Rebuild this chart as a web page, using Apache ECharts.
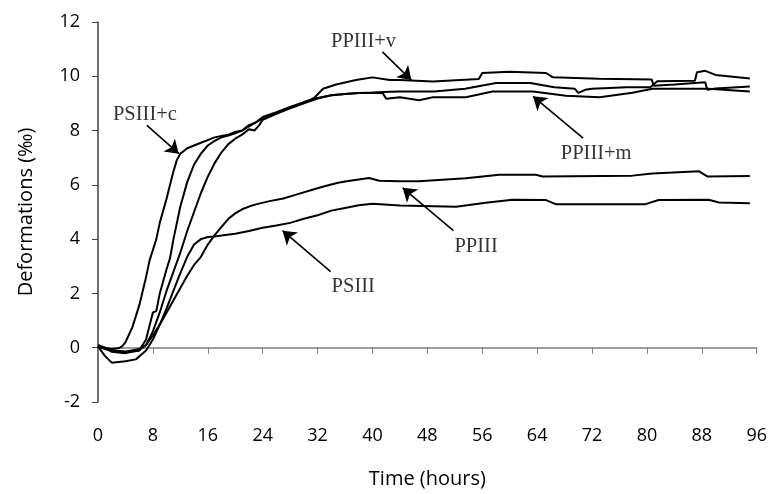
<!DOCTYPE html>
<html><head><meta charset="utf-8">
<script src="https://cdn.jsdelivr.net/npm/echarts@6/dist/echarts.min.js"></script>
<style>html,body{margin:0;padding:0;background:#fff}#c{width:770px;height:494px}</style>
</head><body><div id="c"></div>
<script>
const xTicks = [0, 8, 16, 24, 32, 40, 48, 56, 64, 72, 80, 88, 96];
const yTicks = [-2, 0, 2, 4, 6, 8, 10, 12];

const psIIIc = [[0,0.05],[1,0],[2,-0.05],[3,-0.02],[3.5,0.05],[4,0.2],[5,0.75],[6,1.55],[7,2.6],[7.5,3.2],[8,3.6],[8.5,4.0],[9,4.6],[10,5.5],[10.5,6.0],[11,6.5],[11.5,6.92],[12,7.15],[12.5,7.25],[13,7.35],[14,7.45],[15,7.55],[16,7.65],[17,7.75],[18,7.8],[19,7.85],[20,7.95],[21,8.0],[22,8.2],[23,8.3],[24,8.5],[26,8.68],[28,8.87],[30,9.05],[32,9.2],[34,9.3],[36,9.35],[38,9.38],[40,9.4],[41.5,9.42],[44,9.44],[49,9.44],[53.5,9.54],[58,9.75],[63,9.75],[66.5,9.6],[69.5,9.54],[70,9.39],[71,9.5],[72,9.54],[77,9.6],[80.5,9.6],[81.5,9.82],[87,9.84],[87.3,10.15],[88.5,10.2],[90,10.05],[95,9.92]];
const ppIIIv = [[0,0.05],[1,-0.05],[2,-0.1],[4,-0.15],[6,-0.1],[7,0.3],[7.5,0.8],[8,1.3],[8.5,1.35],[9,2.0],[10,2.9],[10.5,3.3],[11,4.0],[12,5.2],[13,6.1],[14,6.75],[15,7.15],[16,7.45],[17,7.62],[18,7.75],[19,7.82],[20,7.9],[21,8.0],[22,8.15],[24,8.45],[26,8.65],[28,8.85],[30,9.02],[31.5,9.2],[32.8,9.54],[34.7,9.7],[37.6,9.86],[40,9.96],[42.5,9.86],[44,9.86],[48.8,9.81],[55.5,9.9],[56,10.12],[60,10.17],[65.3,10.12],[66.3,9.96],[73,9.91],[80.7,9.88],[81,9.65],[84,9.7],[88.5,9.78],[88.8,9.5],[90,9.55],[95,9.62]];
const ppIIIm = [[0,0.1],[1,0.0],[2,-0.15],[4,-0.2],[6,-0.1],[7,0.1],[8,0.6],[9,1.3],[10,2.1],[11,2.8],[12,3.5],[13,4.3],[14,5.0],[15,5.7],[16,6.3],[17,6.8],[18,7.2],[19,7.5],[20,7.7],[21,7.85],[22,8.05],[22.8,8.0],[23.5,8.2],[24,8.4],[26,8.62],[28,8.82],[30,9.0],[32,9.18],[34,9.3],[36,9.35],[38,9.38],[41.5,9.38],[42,9.17],[44,9.23],[46.8,9.12],[48.8,9.23],[53.6,9.23],[57.5,9.44],[63.4,9.44],[68.2,9.28],[73.1,9.23],[77.9,9.39],[80.8,9.54],[89,9.54],[95,9.44]];
const ppIII = [[0,0.05],[2,-0.1],[4,-0.15],[6,-0.05],[7,0.1],[8,0.45],[9,0.85],[10,1.3],[11,1.75],[12,2.2],[13,2.65],[14,3.05],[15,3.35],[16,3.8],[17,4.15],[18,4.45],[19,4.75],[20,4.95],[21,5.1],[22,5.2],[23,5.28],[25,5.4],[27,5.5],[29,5.65],[31,5.8],[33,5.95],[35,6.08],[36,6.12],[38,6.2],[39.5,6.25],[41,6.15],[44,6.13],[46.8,6.13],[53.6,6.24],[58.5,6.37],[63.8,6.37],[64.8,6.31],[77.9,6.34],[80.8,6.42],[87.6,6.5],[88.8,6.31],[95,6.33]];
const psIII = [[0,0.05],[1,-0.3],[2,-0.55],[4,-0.5],[5.5,-0.43],[7,-0.1],[8,0.3],[9,0.85],[10,1.45],[11,2.1],[12,2.75],[13,3.35],[14,3.8],[15,4.0],[16,4.08],[17,4.1],[18,4.13],[20,4.2],[22,4.3],[24,4.42],[26,4.5],[28,4.6],[30,4.75],[32,4.88],[34,5.05],[36,5.15],[38,5.25],[40,5.3],[44,5.24],[52.2,5.19],[56.5,5.34],[60.4,5.45],[65.3,5.44],[66.7,5.29],[79.8,5.29],[81.7,5.44],[89,5.45],[90.5,5.35],[95,5.32]];

// annotation labels: [x, y, text]
const annLabels = [[6.84,8.6,'PSIII+c'],[38.7,11.28,'PPIII+v'],[72.6,7.15,'PPIII+m'],[55.1,3.72,'PPIII'],[37.2,2.24,'PSIII']];
// annotation arrows: [x1, y1, x2, y2] (from label to curve)
const annArrows = [[7.13,8.19,11.78,7.15],[41.45,10.9,45.67,9.86],[70.7,7.72,63.4,9.26],[51.8,4.31,44.4,5.89],[33.9,2.8,26.9,4.31]];

const tickFont = {fontFamily:'Open Sans', fontSize:18, color:'#000'};
const titleFont = {fontFamily:'Open Sans', fontSize:20, color:'#000'};
const lineSeries = (name, data) => ({
  name, type:'line', data, symbol:'none', smooth:false,
  lineStyle:{color:'#000', width:2}, z:3
});

const series = [
  lineSeries('PSIII+c', psIIIc),
  lineSeries('PPIII+v', ppIIIv),
  lineSeries('PPIII+m', ppIIIm),
  lineSeries('PPIII', ppIII),
  lineSeries('PSIII', psIII),
  {
    name:'labels', type:'scatter', symbolSize:0, z:5,
    data: annLabels.map(a => ({value:[a[0], a[1]], label:{formatter:a[2]}})),
    label:{show:true, position:'inside', fontFamily:'Liberation Serif', fontSize:20.5, color:'#000'},
    markLine:{
      silent:true, symbol:['none','arrow'], symbolSize:13,
      label:{show:false},
      lineStyle:{color:'#000', width:1.6, type:'solid'},
      itemStyle:{color:'#000'},
      data: annArrows.map(a => [{coord:[a[0], a[1]]}, {coord:[a[2], a[3]]}])
    }
  }
];

const chart = echarts.init(document.getElementById('c'), null, {renderer:'canvas'});
chart.setOption({
  animation:false,
  backgroundColor:'#fff',
  grid:{left:98, right:12, top:22, bottom:27},
  xAxis:{
    type:'value', min:xTicks[0], max:xTicks[xTicks.length-1], interval:8,
    name:'Time (hours)', nameLocation:'middle', nameGap:67,
    nameTextStyle:titleFont,
    axisLine:{onZero:true, lineStyle:{color:'#7f7f7f', width:1.5}},
    axisTick:{show:true, inside:false, length:6, lineStyle:{color:'#7f7f7f'}},
    axisLabel:Object.assign({margin:25}, tickFont),
    splitLine:{show:false}
  },
  yAxis:{
    type:'value', min:yTicks[0], max:yTicks[yTicks.length-1], interval:2,
    name:'Deformations (‰)', nameLocation:'middle', nameGap:62, nameRotate:90,
    nameTextStyle:titleFont,
    axisLine:{show:true, onZero:false, lineStyle:{color:'#404040', width:1.5}},
    axisTick:{show:true, inside:false, length:6, lineStyle:{color:'#404040'}},
    axisLabel:Object.assign({margin:18}, tickFont),
    splitLine:{show:false}
  },
  series
});
</script></body></html>
